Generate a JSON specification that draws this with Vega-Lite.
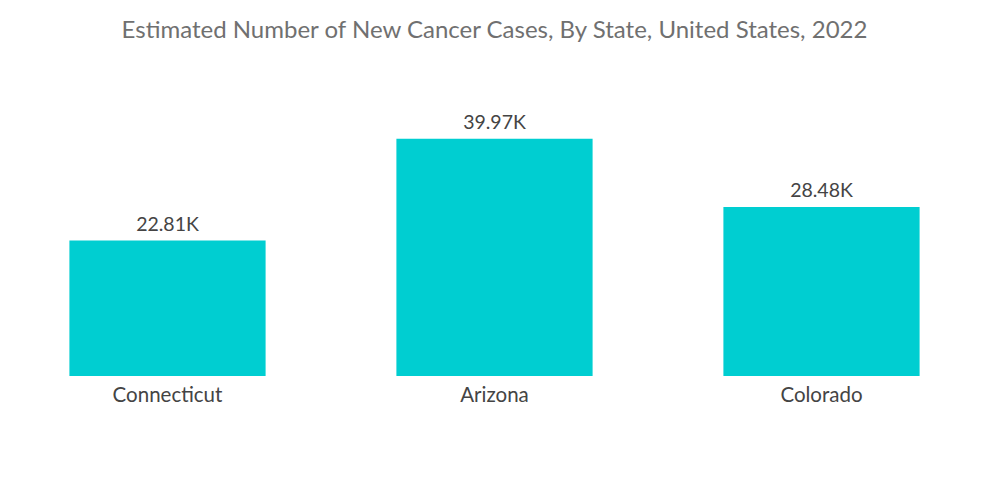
{
  "$schema": "https://vega.github.io/schema/vega-lite/v6.json",
  "autosize": "none",
  "width": 981,
  "height": 276,
  "padding": {"left": 4, "top": 100, "right": 15, "bottom": 128},
  "background": "white",
  "title": {
    "text": "Estimated Number of New Cancer Cases, By State, United States, 2022",
    "font": "Lato",
    "fontSize": 24,
    "fontWeight": "normal",
    "color": "#707070",
    "anchor": "middle",
    "baseline": "alphabetic",
    "offset": 38
  },
  "data": {
    "values": [
      {"state": "Connecticut", "cases": 22810, "label": "22.81K"},
      {"state": "Arizona", "cases": 39970, "label": "39.97K"},
      {"state": "Colorado", "cases": 28480, "label": "28.48K"}
    ]
  },
  "encoding": {
    "x": {
      "field": "state",
      "type": "nominal",
      "sort": null,
      "scale": {"paddingInner": 0.4, "paddingOuter": 0.2},
      "axis": {
        "title": null,
        "labelAngle": 0,
        "ticks": false,
        "domain": false,
        "labelFont": "Lato",
        "labelFontSize": 20.5,
        "labelColor": "#444444",
        "labelPadding": 9
      }
    },
    "y": {
      "field": "cases",
      "type": "quantitative",
      "scale": {"domain": [0, 46500], "nice": false},
      "axis": null
    }
  },
  "layer": [
    {"mark": {"type": "bar", "color": "#00CED1"}},
    {
      "mark": {
        "type": "text",
        "baseline": "alphabetic",
        "dy": -10,
        "font": "Lato",
        "fontSize": 19.5,
        "color": "#444444"
      },
      "encoding": {"text": {"field": "label"}}
    }
  ],
  "config": {"view": {"stroke": null}}
}
